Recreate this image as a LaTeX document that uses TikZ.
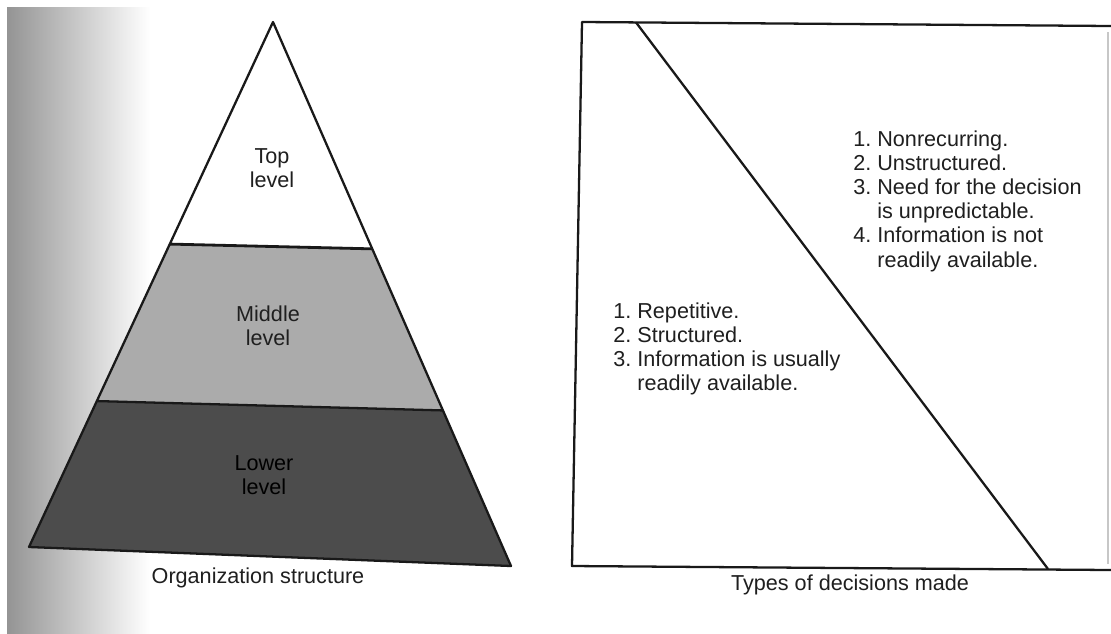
\documentclass[tikz,border=0pt]{standalone}
\usepackage{fontspec}
\setmainfont{Liberation Sans}
\usetikzlibrary{calc}
\begin{document}
\begin{tikzpicture}[x=0.02cm,y=-0.02cm,
  ink/.style={draw=black!90, line width=1.3pt, line join=round},
  lbl/.style={font=\fontsize{12.3}{13.8}\selectfont, text=black!88, inner sep=0pt},
  tierlbl/.style={lbl, align=center, font=\fontsize{12.3}{13.6}\selectfont},
]
\useasboundingbox (0,0) rectangle (1111,633);
\fill[white] (0,0) rectangle (1111,633);
% shaded page edge on the left
\shade[left color=black!42, right color=white] (7,7) rectangle (150,633);

% ---- pyramid of organization levels ----
\coordinate (apex) at (273,22);
\coordinate (bl) at (29,547);
\coordinate (br) at (511,566);
\coordinate (t1) at ($(apex)!0.423!(bl)$);
\coordinate (t2) at ($(apex)!0.417!(br)$);
\coordinate (m1) at ($(apex)!0.722!(bl)$);
\coordinate (m2) at ($(apex)!0.714!(br)$);
\fill[white] (apex) -- (t1) -- (t2) -- cycle;
\fill[black!33] (t1) -- (m1) -- (m2) -- (t2) -- cycle;
\fill[black!70] (m1) -- (bl) -- (br) -- (m2) -- cycle;
\draw[ink, line width=1.6pt] (t1) -- (t2);
\draw[ink] (m1) -- (m2);
\draw[ink] (apex) -- (bl) -- (br) -- cycle;

\node[tierlbl] (top) at (272,168) {Top\\level};
\node[tierlbl] (middle) at (268,326) {Middle\\level};
\node[tierlbl, text=black] (lower) at (264,475) {Lower\\level};
\node[lbl] (orgcap) at (258,578) {Organization structure};

% ---- box of decision types ----
\coordinate (btl) at (582,22);
\coordinate (btr) at (1111,26);
\coordinate (bbr) at (1111,570);
\coordinate (bbl) at (572,566);
\draw[ink] (btr) -- (btl) -- (bbl) -- (bbr);
\draw[black!22, line width=0.6pt] (1108,32) -- (1108,564);
\coordinate (dtop) at (636,22.4);
\coordinate (dbot) at (1048,569);
\draw[ink] (dtop) -- (dbot);

\node[lbl, anchor=base west] (routine) at (613,318)
  {\begin{tabular}[t]{@{}l@{\hspace{0.12cm}}l@{}}
   1.&Repetitive.\\
   2.&Structured.\\
   3.&Information is usually\\
   &readily available.
   \end{tabular}};
\node[lbl, anchor=base west] (novel) at (853,146)
  {\begin{tabular}[t]{@{}l@{\hspace{0.12cm}}l@{}}
   1.&Nonrecurring.\\
   2.&Unstructured.\\
   3.&Need for the decision\\
   &is unpredictable.\\
   4.&Information is not\\
   &readily available.
   \end{tabular}};
\node[lbl] (deccap) at (850,585) {Types of decisions made};
\end{tikzpicture}
\end{document}
